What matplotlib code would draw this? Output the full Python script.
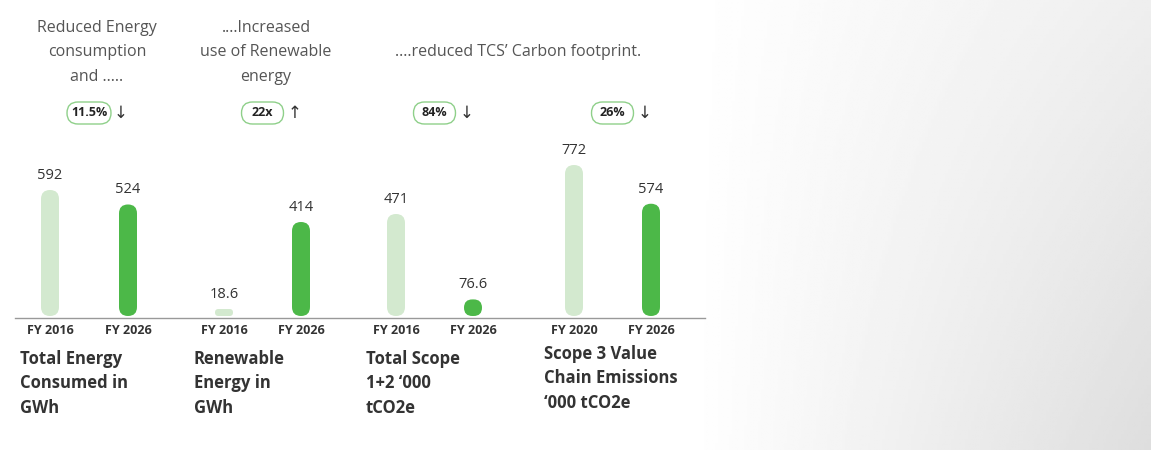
import matplotlib
matplotlib.use("Agg")
import matplotlib.pyplot as plt
import numpy as np
from matplotlib.patches import FancyBboxPatch

groups = ["Total Energy\nConsumed in\nGWh", "Renewable\nEnergy in\nGWh", "Total Scope\n1+2 \u2018000\ntCO2e", "Scope 3 Value\nChain Emissions\n\u2018000 tCO2e"]
years = [["FY 2016", "FY 2026"], ["FY 2016", "FY 2026"], ["FY 2016", "FY 2026"], ["FY 2020", "FY 2026"]]
values = [[592, 524], [18.6, 414], [471, 76.6], [772, 574]]
value_labels = [["592", "524"], ["18.6", "414"], ["471", "76.6"], ["772", "574"]]
badges = ["11.5%", "22x", "84%", "26%"]
arrows = ["\u2193", "\u2191", "\u2193", "\u2193"]
headers = [(97, 20, "Reduced Energy\nconsumption\nand ....."), (266, 20, "....Increased\nuse of Renewable\nenergy"), (518, 44, "....reduced TCS\u2019 Carbon footprint.")]

plt.rcParams['font.family'] = ['Open Sans', 'DejaVu Sans']
fig = plt.figure(figsize=(11.51, 4.5), dpi=100)
ax = fig.add_axes([0, 0, 1, 1])
ax.set_xlim(0, 1151); ax.set_ylim(450, 0); ax.axis('off')

# background gradient (right side)
xs = np.linspace(0, 1, 400)
ys = np.linspace(0, 1, 100)[:, None]
grad = np.clip((xs[None, :] - 0.6) / 0.4, 0, 1) * (0.5 + 0.5 * ys)
img = 1 - 0.13 * grad
ax.imshow(img, extent=[0, 1151, 450, 0], cmap='gray', vmin=0, vmax=1, aspect='auto', zorder=0)

light, dark = "#d3e9cf", "#4cb848"
xpos = [[50, 128], [224, 301], [396, 473], [574, 651]]
maxpx = [126, 94, 102, 151]
base = 316
bw = 18
for g in range(4):
    vmax = max(values[g])
    for i in range(2):
        h = max(values[g][i] / vmax * maxpx[g], 7)
        x = xpos[g][i]
        col = light if i == 0 else dark
        r = min(bw / 2, h / 2)
        p = FancyBboxPatch((x - bw / 2 + r, base - h + r), bw - 2 * r, h - 2 * r,
                           boxstyle=f"round,pad={r}", fc=col, ec='none', zorder=2)
        ax.add_patch(p)
        ax.text(x, base - h - 7, value_labels[g][i], ha='center', va='bottom', fontsize=10.5, color='#333333', zorder=3)
        ax.text(x, 331, years[g][i], ha='center', va='center', fontsize=9, fontweight='bold', color='#333333')
    cx = (xpos[g][0] + xpos[g][1]) / 2
    ax.text(xpos[g][0] - 30, 350 if g < 3 else 345, groups[g], ha='left', va='top', fontsize=12, fontweight='bold',
            color='#333333', linespacing=1.45)
    bw2 = 44 if g == 0 else 42
    bp = FancyBboxPatch((cx - bw2 / 2, 113 - 11), bw2, 22, boxstyle="round,pad=0,rounding_size=11",
                        fc='white', ec='#8fd08a', lw=1, zorder=3)
    ax.add_patch(bp)
    ax.text(cx, 113, badges[g], ha='center', va='center', fontsize=9, fontweight='bold', color='#222222', zorder=4)
    ax.text(cx + 32, 114, arrows[g], ha='center', va='center', fontsize=12, color='#333333', zorder=4)

ax.plot([15, 705], [318, 318], color='#999999', lw=1, zorder=1)
for x, y, t in headers:
    ax.text(x, y, t, ha='center', va='top', fontsize=11.5, color='#555555', linespacing=1.7)

fig.savefig("out.png", dpi=100)
